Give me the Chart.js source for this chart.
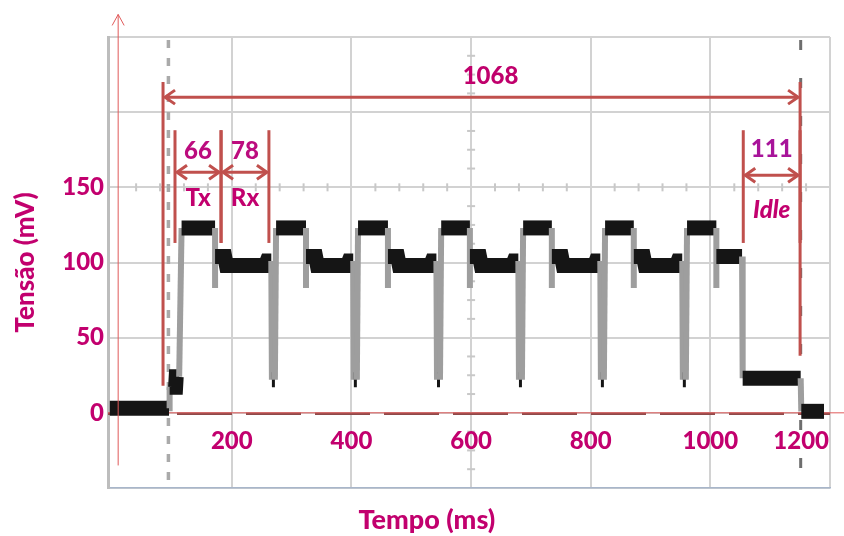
<!DOCTYPE html>
<html>
<head>
<meta charset="utf-8">
<script src="https://cdn.jsdelivr.net/npm/chart.js@4.4.1/dist/chart.umd.min.js"></script>
<style>
  html, body { margin: 0; padding: 0; background: #fff; }
  canvas { display: block; }
</style>
</head>
<body>
<canvas id="scopeChart" width="844" height="536"></canvas>
<script>
// trace: time (ms) and voltage (mV)
const timeMs = [
  -4, 95, 96, 106, 107, 112, 116,
  172, 172, 172, 188, 191, 256, 259, 266, 267, 272, 274,
  324, 324, 324, 340, 343, 393, 396, 403, 404, 409, 411,
  461, 461, 461, 477, 480, 532, 535, 542, 543, 548, 550,
  598, 598, 598, 614, 617, 669, 672, 679, 680, 685, 687,
  735, 735, 735, 751, 754, 806, 809, 816, 817, 822, 824,
  872, 872, 872, 888, 891, 943, 946, 953, 954, 959, 961,
  1010, 1010, 1010, 1053, 1054, 1151, 1152, 1190
];
const tensaoMv = [
  3, 3, 17, 17, 24, 24, 123,
  123, 83, 104, 104, 98, 98, 101, 101, 22, 22, 123,
  123, 83, 104, 104, 98, 98, 101, 101, 22, 22, 123,
  123, 83, 104, 104, 98, 98, 101, 101, 22, 22, 123,
  123, 83, 104, 104, 98, 98, 101, 101, 22, 22, 123,
  123, 83, 104, 104, 98, 98, 101, 101, 22, 22, 123,
  123, 83, 104, 104, 98, 98, 101, 101, 22, 22, 123,
  123, 83, 104, 104, 23, 23, 1, 1
];

const xGridValues = [200, 400, 600, 800, 1000, 1200];
const xTickLabels = ['200', '400', '600', '800', '1000', '1200'];
const yGridValues = [-50, 0, 50, 100, 150, 200, 250];
const yTickLabels = ['0', '50', '100', '150'];

// measured intervals (ms): whole exchange, Tx, Rx, Idle
const spanLabels = ['1068', '66', '78', '111'];
const spanStart = [85, 105, 182, 1055];
const spanEnd = [1150, 182, 262, 1150];
const phaseLabels = ['', 'Tx', 'Rx', 'Idle'];

// scope cursors (ms)
const cursorMs = [94, 1151];

const MAGENTA = '#C2006E';
const RED = '#C0504D';
const FONT = 'Lato, "Open Sans", sans-serif';
const WEIGHT = '900';

// where each span is drawn (mV levels) - layout only
const spanLayout = [
  { top: 220, bottomL: 18, bottomR: 38, arrow: 210, label: 224, shift: 15, color: '#C0006C' },
  { top: 188, bottomL: 113, bottomR: 113, arrow: 160, label: 174, shift: 0, color: '#BC0C7E', phase: 143 },
  { top: 188, bottomL: 113, bottomR: 113, arrow: 160, label: 174, shift: 0, color: '#BC0C7E', phase: 143 },
  { top: 188, bottomL: 113, bottomR: 113, arrow: 158, label: 175, shift: 0, color: '#A8149A', phase: 135 }
];

function isEdge(ctx) {
  return Math.abs(ctx.p1.parsed.y - ctx.p0.parsed.y) > 8;
}

function line(ctx, x1, y1, x2, y2) {
  ctx.beginPath();
  ctx.moveTo(x1, y1);
  ctx.lineTo(x2, y2);
  ctx.stroke();
}

function hArrow(ctx, x1, x2, y) {
  line(ctx, x1, y, x2, y);
  ctx.beginPath();
  ctx.moveTo(x1 + 10, y - 7); ctx.lineTo(x1, y); ctx.lineTo(x1 + 10, y + 7);
  ctx.moveTo(x2 - 10, y - 7); ctx.lineTo(x2, y); ctx.lineTo(x2 - 10, y + 7);
  ctx.stroke();
}

const scopeDecor = {
  id: 'scopeDecor',
  beforeDatasetsDraw(chart) {
    const { ctx, chartArea: a, scales: { x, y } } = chart;
    ctx.save();
    // minor ticks on the 150 mV line and the 600 ms line
    ctx.strokeStyle = '#C8C8C8';
    ctx.lineWidth = 2;
    const y150 = y.getPixelForValue(150);
    for (let t = 40; t < 1200; t += 40) {
      if (t % 200 === 0) continue;
      const px = x.getPixelForValue(t);
      line(ctx, px, y150 - 4, px, y150 + 4);
    }
    const x600 = x.getPixelForValue(600);
    for (let v = -37.5; v < 250; v += 12.5) {
      if (v % 50 === 0) continue;
      const py = y.getPixelForValue(v);
      line(ctx, x600 - 4, py, x600 + 4, py);
    }
    // cursors
    ctx.lineWidth = 3.5;
    ctx.strokeStyle = '#AAAAAA';
    ctx.setLineDash([8, 10]);
    const c0 = x.getPixelForValue(cursorMs[0]);
    line(ctx, c0, a.top + 3, c0, a.bottom);
    ctx.strokeStyle = '#6E6E6E';
    ctx.lineWidth = 3;
    ctx.setLineDash([10, 28]);
    const c1 = x.getPixelForValue(cursorMs[1]);
    line(ctx, c1, a.top + 3, c1, a.bottom);
    // zero reference
    const y0 = y.getPixelForValue(0);
    ctx.strokeStyle = '#8E4A4A';
    ctx.lineWidth = 2.5;
    ctx.setLineDash([55, 14]);
    line(ctx, a.left, y0 + 1, a.right, y0 + 1);
    ctx.setLineDash([]);
    ctx.strokeStyle = '#E05A5A';
    ctx.lineWidth = 1;
    line(ctx, a.left, y0, chart.width, y0);
    ctx.restore();
  },
  afterDatasetsDraw(chart) {
    const { ctx, chartArea: a, scales: { x, y } } = chart;
    ctx.save();
    // red axis arrow
    ctx.strokeStyle = '#E05A5A';
    ctx.lineWidth = 1;
    const ax = x.getPixelForValue(10);
    const aTop = y.getPixelForValue(265);
    line(ctx, ax, aTop, ax, y.getPixelForValue(-35));
    ctx.beginPath();
    ctx.moveTo(ax - 6, aTop + 11); ctx.lineTo(ax, aTop); ctx.lineTo(ax + 6, aTop + 11);
    ctx.stroke();

    // spans
    ctx.strokeStyle = RED;
    ctx.lineWidth = 3;
    ctx.textAlign = 'center';
    ctx.textBaseline = 'middle';
    spanLabels.forEach((lab, i) => {
      const L = spanLayout[i];
      const x1 = x.getPixelForValue(spanStart[i]);
      const x2 = x.getPixelForValue(spanEnd[i]);
      line(ctx, x1, y.getPixelForValue(L.top), x1, y.getPixelForValue(L.bottomL));
      line(ctx, x2, y.getPixelForValue(L.top), x2, y.getPixelForValue(L.bottomR));
      hArrow(ctx, x1 + 2, x2 - 2, y.getPixelForValue(L.arrow));
      const mid = x.getPixelForValue((spanStart[i] + spanEnd[i]) / 2 + L.shift);
      ctx.fillStyle = L.color;
      ctx.font = `${WEIGHT} 24px ${FONT}`;
      ctx.fillText(lab, mid, y.getPixelForValue(L.label));
      if (phaseLabels[i]) {
        ctx.fillStyle = MAGENTA;
        ctx.font = `${phaseLabels[i] === 'Idle' ? 'italic ' : ''}${WEIGHT} 24px ${FONT}`;
        ctx.fillText(phaseLabels[i], mid, y.getPixelForValue(L.phase));
      }
    });

    // time labels sit inside the grid, under the zero line
    ctx.fillStyle = MAGENTA;
    ctx.font = `${WEIGHT} 24px ${FONT}`;
    const ly = y.getPixelForValue(-19);
    xTickLabels.forEach((lab, i) => {
      const w = ctx.measureText(lab).width;
      let px = x.getPixelForValue(xGridValues[i]);
      px = Math.min(px, a.right - w / 2 - 1);
      ctx.fillText(lab, px, ly);
    });

    // axis title
    ctx.font = `${WEIGHT} 27px ${FONT}`;
    ctx.fillText('Tempo (ms)', x.getPixelForValue(526), chart.height - 16);
    ctx.restore();
  }
};

const scopeChart = new Chart(document.getElementById('scopeChart'), {
  type: 'line',
  data: {
    datasets: [{
      data: timeMs.map((t, i) => ({ x: t, y: tensaoMv[i] })),
      borderColor: '#151515',
      borderWidth: 15,
      pointRadius: 0,
      tension: 0,
      segment: {
        borderColor: ctx => isEdge(ctx) ? '#9E9E9E' : '#151515',
        borderWidth: ctx => isEdge(ctx) ? 6 : 15
      }
    }]
  },
  options: {
    responsive: false,
    animation: false,
    layout: { padding: { top: 37, right: 14, left: 0, bottom: 0 } },
    plugins: { legend: { display: false }, tooltip: { enabled: false } },
    scales: {
      x: {
        type: 'linear',
        min: -7,
        max: 1200,
        afterBuildTicks: s => { s.ticks = xGridValues.map(v => ({ value: v })); },
        afterFit: s => { s.height = 48; },
        ticks: { display: false },
        grid: { color: '#D2D2D2', lineWidth: 2, drawTicks: false },
        border: { color: '#A8B6CA', width: 1.5 }
      },
      y: {
        type: 'linear',
        min: -50,
        max: 250,
        afterBuildTicks: s => { s.ticks = yGridValues.map(v => ({ value: v })); },
        afterFit: s => { s.width = 108; },
        ticks: {
          color: MAGENTA,
          font: { family: FONT, size: 24, weight: WEIGHT },
          padding: 4,
          callback: v => yTickLabels.includes(String(v)) ? String(v) : ''
        },
        grid: { color: '#D2D2D2', lineWidth: 2, drawTicks: false },
        border: { color: '#BDBDBD', width: 3 },
        title: {
          display: true,
          text: 'Tensão (mV)',
          color: MAGENTA,
          font: { family: FONT, size: 26, weight: WEIGHT },
          padding: { top: 10 }
        }
      }
    }
  },
  plugins: [scopeDecor]
});
</script>
</body>
</html>
